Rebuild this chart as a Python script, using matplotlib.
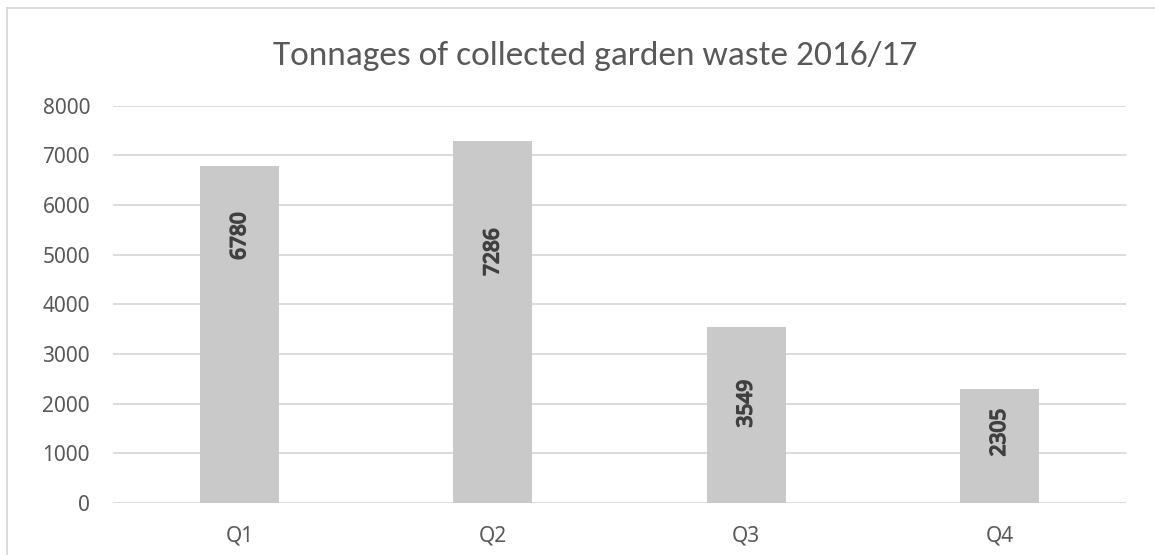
import matplotlib
matplotlib.use("Agg")
import matplotlib.pyplot as plt
from matplotlib.lines import Line2D
import matplotlib.patheffects as pe

categories = ["Q1", "Q2", "Q3", "Q4"]
values = [6780, 7286, 3549, 2305]
yticks = [0, 1000, 2000, 3000, 4000, 5000, 6000, 7000, 8000]
title = "Tonnages of collected garden waste 2016/17"

# label offsets below bar top (pixels), style only
label_gap_px = [46, 87, 53, 20]

W, H = 1155, 555
dpi = 100
fig = plt.figure(figsize=(W / dpi, H / dpi), dpi=dpi)
fig.patch.set_facecolor("white")

left, right, bottom, top = 113, 1126, 503, 105.7
ax = fig.add_axes([left / W, 1 - bottom / H, (right - left) / W, (bottom - top) / H])

x = range(len(categories))
ax.bar(x, values, width=0.312, color="#c9c9c9", zorder=3)
ax.set_xlim(-0.5, len(categories) - 0.5)
ax.set_ylim(0, 8000)
ax.set_yticks(yticks)
ax.set_yticklabels([str(t) for t in yticks])
ax.set_xticks(list(x))
ax.set_xticklabels(categories)
ax.grid(axis="y", color="#d9d9d9", linewidth=1.3, zorder=0)
for s in ax.spines.values():
    s.set_visible(False)
ax.tick_params(length=0)
ax.tick_params(axis="y", pad=16.5, labelsize=15, labelcolor="#595959")
ax.tick_params(axis="x", pad=16, labelsize=15, labelcolor="#595959")
for lab in ax.get_xticklabels() + ax.get_yticklabels():
    lab.set_family("Noto Sans")

for xi, v, g in zip(x, values, label_gap_px):
    ax.annotate(str(v), (xi, v), xytext=(0, -g * 72 / dpi), textcoords="offset points",
                rotation=90, ha="center", va="top", fontsize=15,
                color="#404040", family="Noto Sans",
                path_effects=[pe.withStroke(linewidth=1.1, foreground="#404040")])

fig.text(595 / W, 1 - 65 / H, title, ha="center", va="baseline", fontsize=25.5,
         color="#595959", family=["Carlito", "Lato"])

fig.add_artist(Line2D([7 / W, 7 / W], [0, 1 - 8 / H], color="#d9d9d9", linewidth=1.3,
                      transform=fig.transFigure))
fig.add_artist(Line2D([7 / W, 1], [1 - 8 / H, 1 - 8 / H], color="#d9d9d9", linewidth=1.3,
                      transform=fig.transFigure))

fig.savefig("out.png", dpi=dpi)
